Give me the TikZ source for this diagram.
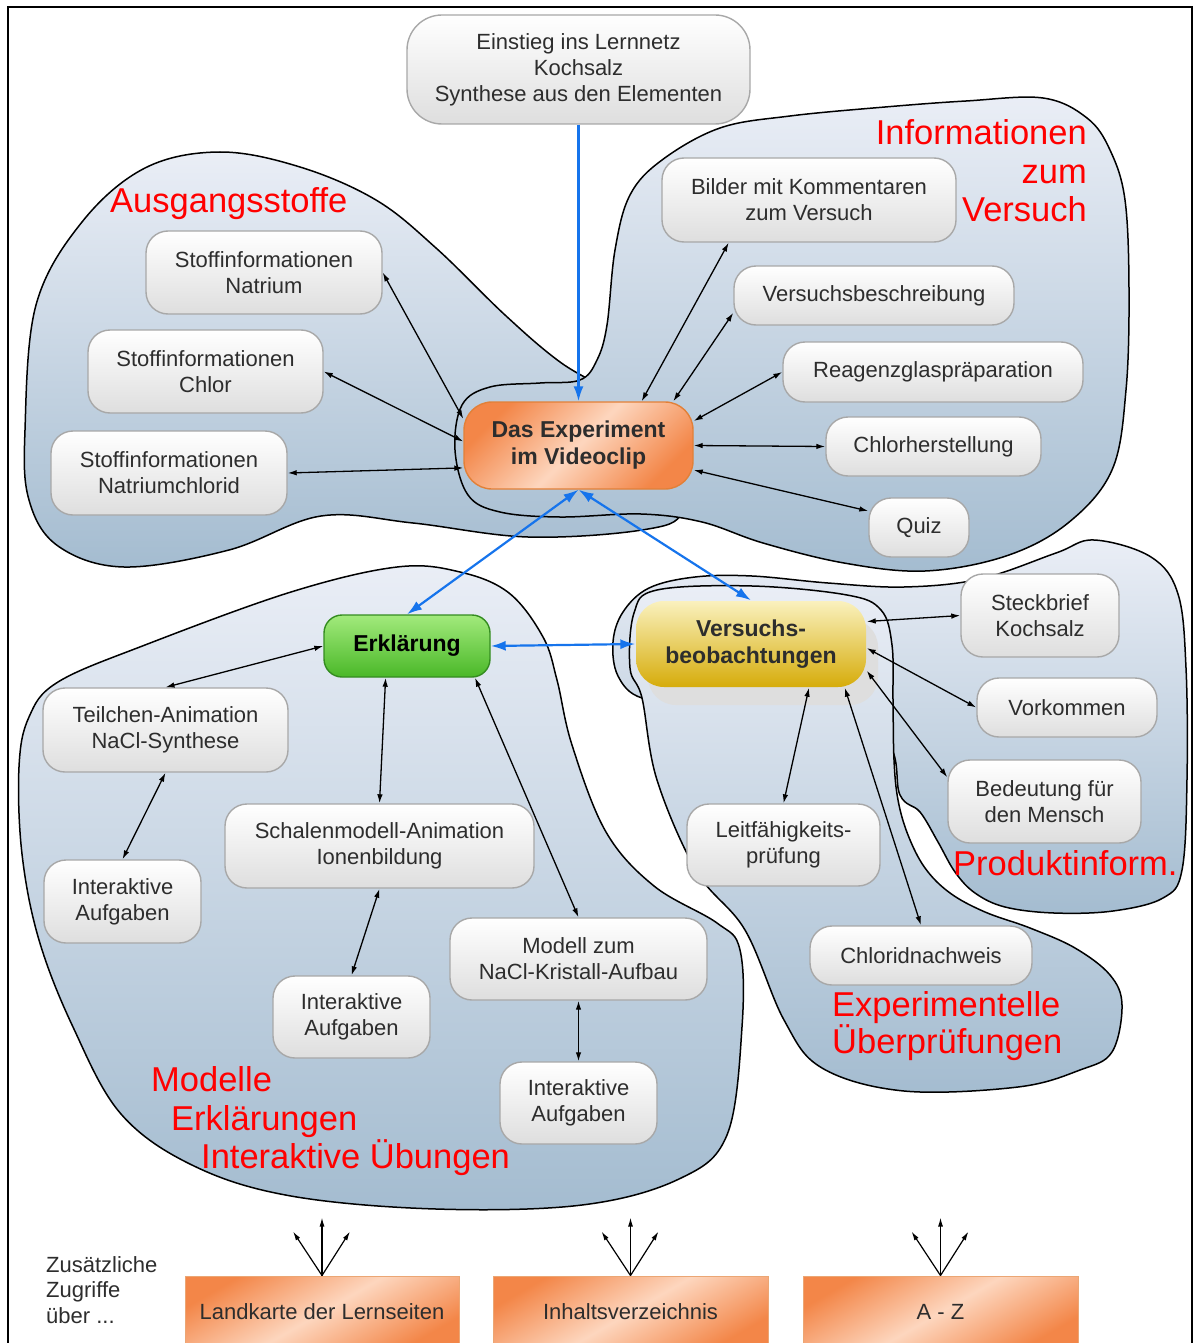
\documentclass[tikz,border=0pt]{standalone}
\usepackage{fontspec}
\setmainfont{Liberation Sans}
\usepackage{xcolor}
\usepackage{tikz}
\usetikzlibrary{arrows.meta, shadows}
\definecolor{txt}{RGB}{45,45,45}
\definecolor{boxline}{RGB}{168,168,168}
\definecolor{boxbot}{RGB}{222,222,222}
\definecolor{blobtop}{RGB}{234,238,246}
\definecolor{blobbot}{RGB}{164,188,208}
\definecolor{orangedark}{RGB}{243,134,72}
\definecolor{orangelight}{RGB}{253,214,190}
\definecolor{orangeline}{RGB}{226,128,56}
\definecolor{greentop}{RGB}{162,234,124}
\definecolor{greenbot}{RGB}{74,184,40}
\definecolor{greenline}{RGB}{52,140,32}
\definecolor{yellowtop}{RGB}{250,241,190}
\definecolor{yellowbot}{RGB}{214,172,10}
\definecolor{linkblue}{RGB}{22,116,236}
\tikzset{
  box/.style={
    rectangle, rounded corners=22pt, draw=boxline, line width=1.4pt,
    top color=white, bottom color=boxbot, align=center, text=txt,
    font=\fontsize{22}{26}\selectfont, inner sep=2pt
  },
  sz/.style 2 args={minimum width=#1pt, minimum height=#2pt},
  hub/.style={box, draw=orangeline, left color=orangedark, right color=orangedark,
    middle color=orangelight, shading angle=45, rounded corners=28pt,
    font=\fontsize{23}{27}\selectfont\bfseries},
  erkbox/.style={box, draw=greenline, top color=greentop, bottom color=greenbot,
    rounded corners=18pt, text=black, font=\fontsize{23}{27}\selectfont\bfseries},
  obsbox/.style={box, draw=none, top color=yellowtop, bottom color=yellowbot,
    rounded corners=28pt, font=\fontsize{23}{27}\selectfont\bfseries,
    drop shadow={shadow xshift=12pt, shadow yshift=-18pt, fill=black!13, opacity=1}},
  access/.style={rectangle, draw=orangeline!70, line width=1pt, left color=orangedark,
    right color=orangedark, middle color=orangelight, shading angle=30, text=txt,
    font=\fontsize{22}{26}\selectfont},
  blob/.style={draw=black, line width=1.5pt, top color=blobtop, bottom color=blobbot},
  grouplabel/.style={text=red, font=\fontsize{34.5}{38.5}\selectfont, inner sep=0pt},
  link/.style={<->, >={Latex[length=9pt,width=5.5pt]}, line width=1.3pt},
  mainlink/.style={draw=linkblue, line width=2.2pt, >={Latex[length=15pt,width=10pt]}},
  fan/.style={->, >={Latex[length=9pt,width=5pt]}, line width=1.2pt},
}
\begin{document}
\begin{tikzpicture}[x=1pt, y=-1pt]
  \useasboundingbox (0,0) rectangle (1196,1343);
  \clip (0,0) rectangle (1196,1343);
  \draw[line width=2.4pt] (8,1360) -- (8,7) -- (1192,7) -- (1192,1360);

  % Themenbereiche
  \draw[blob] plot[smooth cycle, tension=0.6] coordinates {
    (25,430) (36,305) (82,222) (145,168) (220,152) (300,167) (376,200)
    (436,248) (505,315) (560,362) (620,400) (670,460) (682,512)
    (642,530) (528,537) (413,523) (321,516) (229,550) (124,567) (58,546) (29,500)};
  \draw[blob] plot[smooth cycle, tension=0.6] coordinates {
    (455,450) (462,405) (490,387) (540,383) (580,380) (597,360) (607,325)
    (615,250) (630,195) (662,160) (720,128) (790,116) (885,107) (966,101)
    (1043,98) (1087,118) (1110,150) (1125,200) (1129,290) (1126,390)
    (1112,470) (1068,523) (1006,556) (925,571) (844,563) (763,543)
    (702,522) (641,514) (560,517) (500,512) (468,495)};
  \draw[blob] plot[smooth cycle, tension=0.6] coordinates {
    (397,567) (291,592) (145,645) (58,682) (29,717) (19,767) (22,854)
    (39,940) (73,1027) (121,1114) (194,1166) (291,1196) (436,1209)
    (582,1205) (679,1179) (727,1135) (742,1027) (740,950) (717,923)
    (654,886) (606,832) (572,745) (557,680) (543,637) (509,593) (460,572)};
  \draw[blob] plot[smooth cycle, tension=0.6] coordinates {
    (642,698) (618,676) (613,642) (623,612) (649,588) (695,577) (752,576)
    (828,583) (904,587) (980,579) (1056,553) (1094,540) (1151,557)
    (1178,594) (1186,668) (1187,779) (1182,870) (1163,898) (1113,911)
    (1054,913) (1005,907) (975,893) (955,872) (938,842) (920,812)
    (900,795) (885,740) (800,705) (700,702)};
  \draw[blob] plot[smooth cycle, tension=0.6] coordinates {
    (642,698) (630,668) (634,613) (657,590) (752,586) (847,595) (881,610)
    (892,645) (893,700) (894,760) (898,800) (908,835) (925,868) (950,893)
    (985,912) (1030,928) (1075,948) (1110,975) (1122,1005) (1112,1052)
    (1080,1070) (1018,1087) (904,1091) (822,1068) (784,1020) (745,930)
    (697,872) (657,780)};

  \node[grouplabel, anchor=base west] (lblAusg) at (110,212) {Ausgangsstoffe};
  \node[grouplabel, anchor=base east] (lblInfoA) at (1087,145) {Informationen};
  \node[grouplabel, anchor=base east] (lblInfoB) at (1087,183) {zum};
  \node[grouplabel, anchor=base east] (lblInfoC) at (1087,222) {Versuch};
  \node[grouplabel, anchor=base west] (lblModA) at (151,1091) {Modelle};
  \node[grouplabel, anchor=base west] (lblModB) at (171,1130) {Erklärungen};
  \node[grouplabel, anchor=base west] (lblModC) at (201,1168) {Interaktive Übungen};
  \node[grouplabel, anchor=base west] (lblProd) at (953,875) {Produktinform.};
  \node[grouplabel, anchor=base west] (lblExpA) at (832,1016) {Experimentelle};
  \node[grouplabel, anchor=base west] (lblExpB) at (832,1053) {Überprüfungen};

  % Lernseiten
  \node[box, sz={343}{109}, rounded corners=35pt] (ein) at (578.5,69.5) {Einstieg ins Lernnetz\\Kochsalz\\Synthese aus den Elementen};
  \node[hub, sz={229}{87}] (exp) at (578.5,445.5) {Das Experiment\\im Videoclip};
  \node[box, sz={236}{83}] (nat) at (264,272.5) {Stoffinformationen\\Natrium};
  \node[box, sz={235}{83}] (chl) at (205.5,371.5) {Stoffinformationen\\Chlor};
  \node[box, sz={236}{84}] (nacl) at (169,473) {Stoffinformationen\\Natriumchlorid};
  \node[box, sz={294}{84}] (bild) at (809,200) {Bilder mit Kommentaren\\zum Versuch};
  \node[box, sz={280}{59}] (vbes) at (874,295.5) {Versuchsbeschreibung};
  \node[box, sz={300}{60}] (reag) at (933,372) {Reagenzglaspräparation};
  \node[box, sz={215}{59}] (chlh) at (933.5,446.5) {Chlorherstellung};
  \node[box, sz={100}{59}] (quiz) at (919,527.5) {Quiz};
  \node[erkbox, sz={166}{62}] (erk) at (407,646) {Erklärung};
  \node[obsbox, sz={230}{86}] (vbeo) at (751,644) {Versuchs-\\beobachtungen};
  \node[box, sz={158}{83}] (steck) at (1040,615.5) {Steckbrief\\Kochsalz};
  \node[box, sz={180}{59}] (vork) at (1067,707.5) {Vorkommen};
  \node[box, sz={193}{83}] (bed) at (1044.5,801.5) {Bedeutung für\\den Mensch};
  \node[box, sz={245}{84}] (teil) at (165.5,730) {Teilchen-Animation\\NaCl-Synthese};
  \node[box, sz={157}{83}] (iaA) at (122.5,901.5) {Interaktive\\Aufgaben};
  \node[box, sz={309}{84}] (scha) at (379.5,846) {Schalenmodell-Animation\\Ionenbildung};
  \node[box, sz={157}{82}] (iaB) at (351.5,1017) {Interaktive\\Aufgaben};
  \node[box, sz={257}{82}] (mod) at (578.5,959) {Modell zum\\NaCl-Kristall-Aufbau};
  \node[box, sz={157}{82}] (iaC) at (578.5,1103) {Interaktive\\Aufgaben};
  \node[box, sz={193}{82}] (leit) at (783.5,845) {Leitfähigkeits-\\prüfung};
  \node[box, sz={222}{59}] (chln) at (921,955.5) {Chloridnachweis};

  \draw[mainlink, ->] (ein.south) -- (exp.north);
  \draw[mainlink, <->] (exp.south) -- (erk.north);
  \draw[mainlink, <->] (exp.south) -- (vbeo.north);
  \draw[mainlink, <->] (erk.east) -- (vbeo.west);

  \draw[link] (exp.167) -- (nat.east);
  \draw[link] (exp.178) -- (chl.east);
  \draw[link] (exp.191) -- (nacl.east);
  \draw[link] (exp.35) -- (bild.208);
  \draw[link] (exp.25) -- (vbes.187);
  \draw[link] (exp.12) -- (reag.west);
  \draw[link] (exp.east) -- (chlh.west);
  \draw[link] (exp.-12) -- (quiz.162);
  \draw[link] (erk.west) -- (teil.north);
  \draw[link] (teil.south) -- (iaA.north);
  \draw[link] (erk.236) -- (scha.north);
  \draw[link] (scha.south) -- (iaB.north);
  \draw[link] (erk.-25) -- (mod.north);
  \draw[link] (mod.south) -- (iaC.north);
  \draw[link] (vbeo.11) -- (steck.west);
  \draw[link] (vbeo.-2) -- (vork.west);
  \draw[link] (vbeo.-13) -- (bed.166);
  \draw[link] (vbeo.-37) -- (leit.north);
  \draw[link] (vbeo.-25) -- (chln.north);

  % Zugriffe
  \node[anchor=north west, align=left, inner sep=0pt, text=txt,
    font=\fontsize{22}{25.5}\selectfont] (extra) at (46,1256) {Zusätzliche\\Zugriffe\\über ...};
  \node[access, sz={274}{72}] (land) at (322,1312) {Landkarte der Lernseiten};
  \node[access, sz={275}{72}] (inh) at (630.5,1312) {Inhaltsverzeichnis};
  \node[access, sz={275}{72}] (az) at (940.5,1312) {A - Z};
  \foreach \b in {land,inh,az} {
    \coordinate (\b-up) at ([yshift=58pt]\b.north);
    \coordinate (\b-left) at ([xshift=-29pt,yshift=44pt]\b.north);
    \coordinate (\b-right) at ([xshift=28pt,yshift=44pt]\b.north);
    \draw[fan] (\b.north) -- (\b-up);
    \draw[fan] (\b.north) -- (\b-left);
    \draw[fan] (\b.north) -- (\b-right);
  }
\end{tikzpicture}
\end{document}
